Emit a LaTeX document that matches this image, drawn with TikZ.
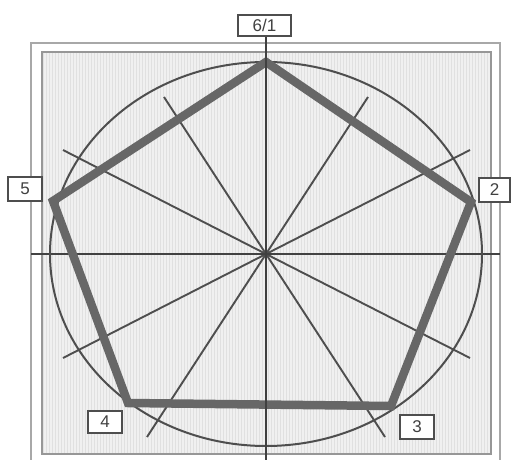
\documentclass[tikz,border=0pt]{standalone}
\usepackage{fontspec}
\setmainfont{Liberation Sans}
\definecolor{penta}{HTML}{676767}
\definecolor{ray}{HTML}{4E4E4E}
\definecolor{frame}{HTML}{A8A8A8}
\definecolor{innerfill}{HTML}{F0F0F0}
\definecolor{stripe}{HTML}{E0E0E0}
\tikzset{
  lbl/.style={draw=ray, line width=1.4pt, fill=white, inner sep=0pt,
    font=\fontsize{17}{17}\selectfont, text=black!75},
  rayline/.style={draw=ray, line width=1.9pt},
  frameline/.style={draw=frame, line width=1.8pt},
}
\begin{document}
\begin{tikzpicture}[x=1pt,y=-1pt]
\useasboundingbox (0,0) rectangle (514,460);
% outer frame (open at bottom)
\draw[frameline] (31,460) -- (31,43) -- (500,43) -- (500,460);
% inner striped panel
\fill[innerfill] (42,52) rectangle (491,454);
\foreach \i in {0,...,148} {
  \draw[stripe, line width=1pt] ({43.5+3*\i},53) -- ({43.5+3*\i},453);
}
\draw[draw=frame!90!black, line width=1.6pt] (42,52) rectangle (491,454);
% centre and axes
\coordinate (c) at (266,254);
\coordinate (axL) at (31,254);
\coordinate (axR) at (500,254);
\coordinate (axB) at (266,460);
% radial lines (30 degree steps on the stretched circle)
\coordinate (r60) at (368,97);
\coordinate (r120) at (164,97);
\coordinate (r240) at (147,437);
\coordinate (r300) at (385,437);
\coordinate (r30) at (470,150);
\coordinate (r150) at (63,150);
\coordinate (r210) at (63,358);
\coordinate (r330) at (470,358);
\draw[rayline] (r60) -- (c) -- (r240);
\draw[rayline] (r120) -- (c) -- (r300);
\draw[rayline] (r30) -- (c) -- (r210);
\draw[rayline] (r150) -- (c) -- (r330);
\draw[rayline, draw=ray!85!black] (axL) -- (c) -- (axR);
% circle
\draw[draw=ray, line width=2pt] (c) ellipse [x radius=216, y radius=192];
% pentagon
\coordinate (p1) at (266,62);
\coordinate (p2) at (471,202);
\coordinate (p3) at (391,406);
\coordinate (p4) at (128,403);
\coordinate (p5) at (53,201);
\draw[draw=penta, line width=8.5pt, line join=miter] (p1) -- (p2) -- (p3) -- (p4) -- (p5) -- cycle;
% labels
\node[lbl, minimum width=53pt, minimum height=21pt] (l61) at (264.5,25.5) {6/1};
\node[lbl, minimum width=34pt, minimum height=24pt] (l5) at (25,189) {5};
\node[lbl, minimum width=31pt, minimum height=24pt] (l2) at (494.5,190) {2};
\node[lbl, minimum width=34pt, minimum height=22pt] (l4) at (105,422) {4};
\node[lbl, minimum width=34pt, minimum height=24pt] (l3) at (417,427) {3};
% vertical axis from the top label down
\draw[draw=black!75, line width=2pt] (l61.south -| c) -- (axB);
\end{tikzpicture}
\end{document}
